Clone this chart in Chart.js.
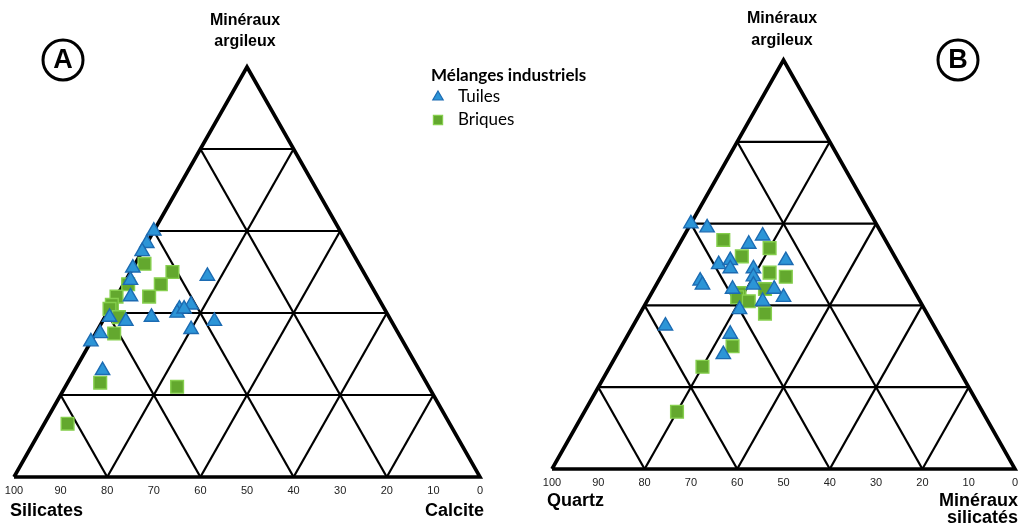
<!DOCTYPE html>
<html>
<head>
<meta charset="utf-8">
<script src="https://cdn.jsdelivr.net/npm/chart.js@4.4.1/dist/chart.umd.min.js"></script>
<style>
  html, body { margin: 0; padding: 0; background: #fff; }
  #wrap { width: 1021px; height: 526px; }
</style>
</head>
<body>
<div id="wrap"><canvas id="c" width="1021" height="526"></canvas></div>
<script>
// Diagramme A : [argile, silicates, calcite] en %
const tuilesA = [
  [60, 40, 0], [57, 43, 0], [55, 45, 0], [51, 49, 0], [48, 51, 1], [44, 53, 3],
  [49, 34, 17], [42, 41, 17], [41, 44, 15], [40, 45, 15], [41, 43, 16], [39, 51, 10],
  [38, 57, 5], [39, 60, 1], [38, 38, 24], [36, 44, 20], [35, 64, 1], [33, 67, 0],
  [26, 68, 6]
];
const briquesA = [
  [52, 46, 2], [50, 41, 9], [47, 45, 8], [44, 49, 7], [47, 52, 1], [44, 56, 0],
  [42, 58, 0], [41, 59, 0], [39, 58, 3], [35, 61, 4], [23, 70, 7], [22, 54, 24],
  [13, 82, 5]
];
// Diagramme B : [argile, quartz, minéraux silicatés] en %
const tuilesB = [
  [60, 40, 0], [59, 37, 4], [57, 26, 17], [55, 30, 15], [51, 24, 25], [50, 39, 11],
  [51, 36, 13], [49, 37, 14], [49, 32, 19], [47, 33, 20], [46, 45, 9], [45, 45, 10],
  [45, 34, 21], [44, 30, 26], [44, 39, 17], [41, 34, 25], [42, 29, 29], [39, 40, 21],
  [35, 58, 7], [33, 45, 22], [28, 49, 23]
];
const briquesB = [
  [56, 35, 9], [52, 33, 15], [54, 26, 20], [48, 29, 23], [47, 26, 27], [44, 32, 24],
  [43, 38, 19], [42, 39, 19], [41, 37, 22], [38, 35, 27], [30, 46, 24], [25, 55, 20],
  [14, 66, 20]
];
const gridSteps = [20, 40, 60, 80];
const tickLabels = [100, 90, 80, 70, 60, 50, 40, 30, 20, 10, 0];
const seriesNames = ['Tuiles', 'Briques'];
const legendTitle = 'Mélanges industriels';

// triangle corners in canvas units: top, left, right
const frameA = { top: [247, 67], left: [14, 477], right: [480, 477] };
const frameB = { top: [783.5, 60], left: [552, 469], right: [1015, 469] };

const blueFill = '#2c95d7', blueLine = '#1c6bb2';
const greenFill = '#63a82e', greenLine = '#86cf4e';

const tern = (f, p) => ({
  x: (p[0] * f.top[0] + p[1] * f.left[0] + p[2] * f.right[0]) / 100,
  y: (p[0] * f.top[1] + p[1] * f.left[1] + p[2] * f.right[1]) / 100
});

function gridSets(f) {
  const sets = [];
  gridSteps.forEach(k => {
    const segs = [
      [[k, 100 - k, 0], [k, 0, 100 - k]],
      [[0, 100 - k, k], [100 - k, 0, k]],
      [[0, k, 100 - k], [100 - k, k, 0]]
    ];
    segs.forEach(s => sets.push({
      type: 'line', data: s.map(p => tern(f, p)), borderColor: '#000',
      borderWidth: 2.2, pointRadius: 0, order: 2
    }));
  });
  sets.push({
    type: 'line', data: [[0, 100, 0], [0, 0, 100], [100, 0, 0], [0, 100, 0]].map(p => tern(f, p)),
    borderColor: '#000', borderWidth: 3.6, borderJoinStyle: 'miter', pointRadius: 0, order: 1
  });
  return sets;
}

const tri = (f, arr) => ({
  type: 'scatter', data: arr.map(p => tern(f, p)), pointStyle: 'triangle', pointRadius: 8.3,
  backgroundColor: blueFill, borderColor: blueLine, borderWidth: 1.4, order: 0
});
const sq = (f, arr) => ({
  type: 'scatter', data: arr.map(p => tern(f, p)), pointStyle: 'rect', pointRadius: 9,
  backgroundColor: greenFill, borderColor: greenLine, borderWidth: 1.4, order: 0
});

const labels = {
  id: 'labels',
  afterDraw(chart) {
    const ctx = chart.ctx, sx = chart.scales.x, sy = chart.scales.y;
    const px = (x, y) => [sx.getPixelForValue(x), sy.getPixelForValue(y)];
    ctx.save();
    ctx.fillStyle = '#000';
    ctx.textBaseline = 'middle';

    // tick labels
    ctx.font = '11px "Liberation Sans", Arial, sans-serif';
    ctx.fillStyle = '#222';
    ctx.textAlign = 'center';
    [[frameA, 491], [frameB, 483]].forEach(([f, ty]) => {
      tickLabels.forEach(v => {
        const p = tern(f, [0, v, 100 - v]);
        const [x, y] = px(p.x, ty);
        ctx.fillText(String(v), x, y);
      });
    });

    ctx.fillStyle = '#000';
    ctx.font = 'bold 16px "Liberation Sans", Arial, sans-serif';
    ctx.textAlign = 'center';
    ctx.fillText('Minéraux', 245, 21);
    ctx.fillText('argileux', 245, 42);
    ctx.fillText('Minéraux', 782, 19);
    ctx.fillText('argileux', 782, 41);

    ctx.font = 'bold 18px "Liberation Sans", Arial, sans-serif';
    ctx.textAlign = 'left';
    ctx.fillText('Silicates', 10, 511);
    ctx.fillText('Quartz', 547, 501);
    ctx.textAlign = 'right';
    ctx.fillText('Calcite', 484, 511);
    ctx.fillText('Minéraux', 1018, 501);
    ctx.fillText('silicatés', 1018, 518);

    // circled letters
    [['A', 63, 60], ['B', 958, 60]].forEach(([t, x, y]) => {
      ctx.beginPath();
      ctx.lineWidth = 3;
      ctx.strokeStyle = '#000';
      ctx.arc(x, y, 20, 0, Math.PI * 2);
      ctx.stroke();
      ctx.font = 'bold 27px "Liberation Sans", Arial, sans-serif';
      ctx.textAlign = 'center';
      ctx.fillText(t, x, y + 1);
    });

    // legend
    ctx.textAlign = 'left';
    ctx.font = 'bold 17px Lato, "Open Sans", sans-serif';
    ctx.fillText(legendTitle, 431, 76);
    ctx.font = '17px Lato, "Open Sans", sans-serif';
    const draw = Chart.helpers && Chart.helpers.drawPoint;
    [[seriesNames[0], 'triangle', blueFill, blueLine, 97], [seriesNames[1], 'rect', greenFill, greenLine, 120]].forEach(([n, st, bg, bd, y]) => {
      ctx.fillStyle = bg; ctx.strokeStyle = bd; ctx.lineWidth = 1.2;
      if (draw) draw(ctx, { pointStyle: st, radius: st === 'rect' ? 6.5 : 6, borderWidth: 1.2, rotation: 0 }, 438, y);
      ctx.fillStyle = '#000';
      ctx.fillText(n, 458, y);
    });
    ctx.restore();
  }
};

new Chart(document.getElementById('c'), {
  type: 'scatter',
  data: {
    datasets: [
      tri(frameA, tuilesA), sq(frameA, briquesA),
      tri(frameB, tuilesB), sq(frameB, briquesB),
      ...gridSets(frameA), ...gridSets(frameB)
    ]
  },
  options: {
    responsive: false,
    animation: false,
    layout: { padding: 0, autoPadding: false },
    scales: {
      x: { type: 'linear', min: 0, max: 1021, display: false },
      y: { type: 'linear', min: 0, max: 526, reverse: true, display: false }
    },
    plugins: { legend: { display: false }, tooltip: { enabled: false } }
  },
  plugins: [labels]
});
</script>
</body>
</html>
